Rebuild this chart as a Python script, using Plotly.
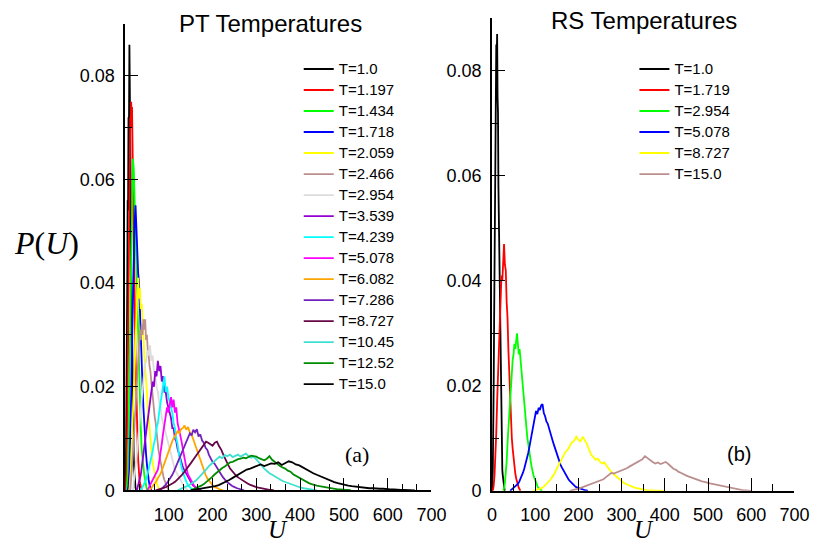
import numpy as np
import plotly.graph_objects as go

# ---------------- PT temperature set (panel a) ----------------
pt_temps = ["1.0", "1.197", "1.434", "1.718", "2.059", "2.466", "2.954", "3.539",
            "4.239", "5.078", "6.082", "7.286", "8.727", "10.45", "12.52", "15.0"]
# first bin centre and bin width of each histogram
pt_u_start = [0, 2, 4, 6, 10, 12, 18, 27, 36, 51, 56, 80, 70, 120, 150, 150]
pt_u_step = [1, 1, 2, 2, 2, 2, 3, 3, 3, 3, 4, 4, 5, 6, 6, 8]

pt_p_1000 = [0.000, 0.001, 0.004, 0.012, 0.024, 0.038, 0.056, 0.054, 0.072, 0.070, 0.086, 0.080,
             0.066, 0.058, 0.044, 0.036, 0.026, 0.019, 0.013, 0.009, 0.006, 0.004, 0.002, 0.001,
             0.0005, 0.0002, 0.0]
pt_p_1197 = [0.000, 0.002, 0.006, 0.012, 0.020, 0.030, 0.041, 0.052, 0.060, 0.067, 0.072, 0.070,
             0.075, 0.073, 0.074, 0.066, 0.063, 0.055, 0.050, 0.042, 0.038, 0.031, 0.026, 0.021,
             0.017, 0.013, 0.010, 0.008, 0.006, 0.004, 0.003, 0.002, 0.0015, 0.001, 0.0005,
             0.0002, 0.0]
pt_p_1434 = [0.000, 0.003, 0.010, 0.022, 0.036, 0.050, 0.058, 0.064, 0.062, 0.055, 0.050, 0.042,
             0.034, 0.028, 0.021, 0.016, 0.012, 0.008, 0.006, 0.004, 0.003, 0.002, 0.001, 0.0]
pt_p_1718 = [0.000, 0.001, 0.004, 0.010, 0.018, 0.028, 0.038, 0.046, 0.052, 0.055, 0.050, 0.048,
             0.042, 0.040, 0.034, 0.030, 0.024, 0.020, 0.016, 0.012, 0.009, 0.007, 0.005, 0.003,
             0.002, 0.001, 0.0005, 0.0]
pt_p_2059 = [0.000, 0.002, 0.005, 0.010, 0.015, 0.020, 0.026, 0.031, 0.035, 0.038, 0.041, 0.037,
             0.039, 0.035, 0.036, 0.031, 0.030, 0.026, 0.024, 0.021, 0.019, 0.016, 0.014, 0.011,
             0.009, 0.008, 0.006, 0.005, 0.004, 0.003, 0.002, 0.0015, 0.001, 0.0005, 0.0]
pt_p_2466 = [0.000, 0.002, 0.004, 0.007, 0.010, 0.013, 0.017, 0.020, 0.023, 0.026, 0.028, 0.031,
             0.029, 0.032, 0.030, 0.033, 0.031, 0.033, 0.029, 0.030, 0.027, 0.026, 0.024, 0.023,
             0.021, 0.019, 0.018, 0.016, 0.014, 0.013, 0.011, 0.010, 0.008, 0.007, 0.006, 0.005,
             0.004, 0.003, 0.0025, 0.002, 0.0015, 0.001, 0.0006, 0.0003, 0.0]
pt_p_2954 = [0.000, 0.002, 0.004, 0.007, 0.010, 0.013, 0.016, 0.019, 0.021, 0.024, 0.025, 0.027,
             0.026, 0.028, 0.025, 0.026, 0.023, 0.022, 0.020, 0.019, 0.017, 0.016, 0.014, 0.013,
             0.012, 0.011, 0.010, 0.0085, 0.0075, 0.0065, 0.0055, 0.005, 0.004, 0.0035, 0.003,
             0.0025, 0.002, 0.0015, 0.001, 0.0007, 0.0004, 0.0002, 0.0]
pt_p_3539 = [0.000, 0.001, 0.002, 0.003, 0.005, 0.007, 0.009, 0.011, 0.013, 0.015, 0.017, 0.019,
             0.021, 0.020, 0.023, 0.022, 0.025, 0.023, 0.024, 0.021, 0.022, 0.019, 0.019, 0.017,
             0.016, 0.015, 0.014, 0.012, 0.012, 0.010, 0.0095, 0.008, 0.007, 0.0065, 0.0055,
             0.0045, 0.004, 0.0035, 0.003, 0.0025, 0.002, 0.0015, 0.0012, 0.0009, 0.0007,
             0.0005, 0.0003, 0.0002, 0.0001, 0.0]
pt_p_4239 = [0.000, 0.0005, 0.001, 0.0015, 0.002, 0.003, 0.004, 0.005, 0.006, 0.0075, 0.009, 0.010,
             0.012, 0.013, 0.015, 0.017, 0.019, 0.020, 0.022, 0.019, 0.020, 0.018, 0.017, 0.016,
             0.015, 0.013, 0.012, 0.010, 0.009, 0.007, 0.0055, 0.0045, 0.0035, 0.0027, 0.002,
             0.0015, 0.001, 0.0007, 0.0004, 0.0002, 0.0001, 0.0]
pt_p_5078 = [0.000, 0.0005, 0.001, 0.0015, 0.002, 0.0025, 0.003, 0.0035, 0.004, 0.0055, 0.007,
             0.009, 0.011, 0.013, 0.014, 0.016, 0.015, 0.017, 0.018, 0.016, 0.0175, 0.015, 0.016,
             0.013, 0.012, 0.011, 0.0095, 0.008, 0.0065, 0.005, 0.004, 0.003, 0.0025, 0.002,
             0.0015, 0.001, 0.0007, 0.0004, 0.0002, 0.0001, 0.0]
pt_p_6082 = [0.000, 0.0004, 0.0008, 0.0012, 0.0018, 0.0025, 0.003, 0.0038, 0.0048, 0.0058, 0.0068,
             0.0078, 0.0085, 0.0095, 0.0102, 0.0108, 0.0114, 0.011, 0.0118, 0.012, 0.0125, 0.0117,
             0.0122, 0.0112, 0.0108, 0.0098, 0.0088, 0.0078, 0.0066, 0.0058, 0.0046, 0.0038,
             0.003, 0.0023, 0.0018, 0.0013, 0.001, 0.0007, 0.0005, 0.0003, 0.0002, 0.0001, 0.0]
pt_p_7286 = [0.000, 0.0003, 0.0006, 0.001, 0.0014, 0.0019, 0.0025, 0.003, 0.0037, 0.0045, 0.0053,
             0.0062, 0.007, 0.0078, 0.0088, 0.0094, 0.0102, 0.011, 0.0106, 0.0117, 0.0112, 0.0118,
             0.0104, 0.0108, 0.0096, 0.0092, 0.0082, 0.0078, 0.0068, 0.0062, 0.0055, 0.0052,
             0.0046, 0.004, 0.0035, 0.003, 0.0025, 0.002, 0.0017, 0.0014, 0.0011, 0.0009, 0.0007,
             0.0005, 0.0004, 0.0003, 0.0002, 0.0001, 0.0]
pt_p_8727 = [0.000, 0.0001, 0.0002, 0.0003, 0.0005, 0.0007, 0.0009, 0.0011, 0.0014, 0.0017, 0.0021,
             0.0025, 0.003, 0.0035, 0.004, 0.0046, 0.0052, 0.0058, 0.0064, 0.0071, 0.0076, 0.0083,
             0.0088, 0.0094, 0.0092, 0.0089, 0.0086, 0.0092, 0.0094, 0.0085, 0.0078, 0.0068,
             0.0058, 0.005, 0.0042, 0.0037, 0.0031, 0.0027, 0.0024, 0.0021, 0.0018, 0.0015,
             0.0013, 0.0011, 0.0009, 0.0007, 0.0006, 0.0005, 0.0004, 0.0003, 0.0002, 0.0002,
             0.0001, 0.0001, 0.0]
pt_p_1045 = [0.000, 0.0002, 0.0004, 0.0006, 0.0009, 0.0012, 0.0015, 0.0019, 0.0024, 0.0029, 0.0035,
             0.0041, 0.0047, 0.0052, 0.0057, 0.006, 0.0065, 0.0062, 0.0068, 0.0066, 0.0069, 0.0064,
             0.0067, 0.0069, 0.0065, 0.0068, 0.0071, 0.0066, 0.0063, 0.0065, 0.006, 0.0055,
             0.0048, 0.0042, 0.0037, 0.0033, 0.003, 0.0027, 0.0023, 0.002, 0.0018, 0.0016,
             0.0014, 0.0012, 0.001, 0.0008, 0.0007, 0.0005, 0.0004, 0.0003, 0.0002, 0.0001,
             0.0001, 0.0]
pt_p_1252 = [0.000, 0.0002, 0.0004, 0.0006, 0.0009, 0.0012, 0.0016, 0.002, 0.0025, 0.003, 0.0035,
             0.004, 0.0043, 0.0046, 0.005, 0.0054, 0.0055, 0.0058, 0.006, 0.0061, 0.0063, 0.0062,
             0.0065, 0.0067, 0.0066, 0.0065, 0.0062, 0.006, 0.0058, 0.0061, 0.0066, 0.0059,
             0.0055, 0.005, 0.0047, 0.0044, 0.0042, 0.0038, 0.0036, 0.0031, 0.0028, 0.0025,
             0.0022, 0.0019, 0.0016, 0.0014, 0.0012, 0.001, 0.0009, 0.0008, 0.0007, 0.0006,
             0.0005, 0.0004, 0.0003, 0.0003, 0.0002, 0.0002, 0.0001, 0.0001, 0.0001, 0.0]
pt_p_1500 = [0.000, 0.0001, 0.0002, 0.0003, 0.0004, 0.0005, 0.0006, 0.0008, 0.001, 0.0013, 0.0016,
             0.002, 0.0024, 0.0028, 0.0033, 0.0036, 0.004, 0.0042, 0.0045, 0.0048, 0.005, 0.0047,
             0.0049, 0.0052, 0.0051, 0.0054, 0.0049, 0.0053, 0.0056, 0.0054, 0.005, 0.0048,
             0.0044, 0.004, 0.0036, 0.0033, 0.003, 0.0027, 0.0024, 0.0021, 0.0018, 0.0016,
             0.0014, 0.0012, 0.001, 0.0009, 0.0008, 0.0007, 0.0006, 0.0006, 0.0005, 0.0004,
             0.0004, 0.0003, 0.0003, 0.0003, 0.0002, 0.0002, 0.0002, 0.0001, 0.0001, 0.0001,
             0.0001, 0.0001, 0.0]

pt_values = [pt_p_1000, pt_p_1197, pt_p_1434, pt_p_1718, pt_p_2059, pt_p_2466, pt_p_2954, pt_p_3539,
             pt_p_4239, pt_p_5078, pt_p_6082, pt_p_7286, pt_p_8727, pt_p_1045, pt_p_1252, pt_p_1500]

# ---------------- RS temperature set (panel b) ----------------
rs_temps = ["1.0", "1.719", "2.954", "5.078", "8.727", "15.0"]
rs_u_start = [0, 2, 26, 42, 95, 180]
rs_u_step = [1, 2, 2, 3, 5, 6]

rs_p_1000 = [0.000, 0.001, 0.004, 0.010, 0.020, 0.032, 0.045, 0.054, 0.068, 0.078, 0.085, 0.083,
             0.087, 0.075, 0.072, 0.058, 0.052, 0.040, 0.032, 0.024, 0.018, 0.013, 0.009, 0.006,
             0.004, 0.003, 0.002, 0.001, 0.0006, 0.0003, 0.0]
rs_p_1719 = [0.000, 0.001, 0.003, 0.006, 0.011, 0.017, 0.022, 0.028, 0.033, 0.038, 0.041, 0.040,
             0.045, 0.047, 0.043, 0.042, 0.036, 0.033, 0.027, 0.022, 0.017, 0.013, 0.010, 0.008,
             0.006, 0.0045, 0.0033, 0.0024, 0.0016, 0.001, 0.0006, 0.0003, 0.0]
rs_p_2954 = [0.000, 0.0005, 0.0015, 0.003, 0.0055, 0.009, 0.012, 0.015, 0.018, 0.020, 0.023, 0.025,
             0.026, 0.028, 0.027, 0.029, 0.030, 0.028, 0.026, 0.027, 0.025, 0.023, 0.022, 0.019,
             0.017, 0.015, 0.013, 0.012, 0.010, 0.009, 0.0075, 0.0065, 0.0055, 0.0045, 0.0035,
             0.003, 0.0025, 0.002, 0.0015, 0.001, 0.0007, 0.0005, 0.0003, 0.0002, 0.0001, 0.0]
rs_p_5078 = [0.000, 0.0002, 0.0004, 0.0006, 0.0008, 0.001, 0.0013, 0.0017, 0.0022, 0.0028, 0.0035,
             0.0043, 0.0052, 0.0062, 0.0072, 0.0085, 0.0098, 0.0115, 0.0128, 0.014, 0.0152, 0.0146,
             0.0158, 0.0154, 0.0163, 0.0165, 0.0148, 0.0142, 0.0132, 0.0128, 0.0118, 0.0108,
             0.0102, 0.0094, 0.0086, 0.0078, 0.007, 0.0064, 0.0055, 0.0049, 0.0044, 0.0039,
             0.0035, 0.003, 0.0026, 0.0022, 0.0019, 0.0016, 0.0013, 0.0011, 0.0009, 0.0007,
             0.0006, 0.0005, 0.0004, 0.0003, 0.0002, 0.0002, 0.0001, 0.0001, 0.0]
rs_p_8727 = [0.000, 0.0001, 0.0002, 0.0003, 0.0005, 0.0008, 0.0012, 0.0016, 0.0021, 0.0027, 0.0033,
             0.0042, 0.005, 0.0056, 0.0065, 0.0074, 0.0078, 0.0086, 0.0092, 0.0095, 0.0103, 0.0097,
             0.0094, 0.0103, 0.0096, 0.0089, 0.0078, 0.0068, 0.0064, 0.0059, 0.0061, 0.0055,
             0.0052, 0.0054, 0.0048, 0.0042, 0.0037, 0.0033, 0.0029, 0.0025, 0.0021, 0.0018,
             0.0015, 0.0013, 0.0011, 0.0009, 0.0007, 0.0006, 0.0005, 0.0004, 0.0003, 0.0002,
             0.0002, 0.0001, 0.0001, 0.0001, 0.0, 0.0, 0.0, 0.0, 0.0, 0.0]
rs_p_1500 = [0.000, 0.0001, 0.0002, 0.0003, 0.0005, 0.0007, 0.0009, 0.0011, 0.0013, 0.0015, 0.0016,
             0.0018, 0.002, 0.0022, 0.0026, 0.003, 0.0034, 0.0033, 0.0035, 0.0036, 0.0038, 0.004,
             0.0043, 0.0046, 0.0049, 0.0052, 0.0055, 0.0058, 0.006, 0.0066, 0.0062, 0.0058,
             0.0055, 0.0052, 0.0054, 0.0051, 0.0053, 0.0055, 0.0051, 0.0046, 0.0042, 0.004,
             0.0036, 0.0034, 0.0031, 0.0029, 0.0027, 0.0025, 0.0023, 0.0022, 0.002, 0.0018,
             0.0017, 0.0015, 0.0014, 0.0013, 0.0012, 0.0011, 0.0009, 0.0008, 0.0007, 0.0006,
             0.0005, 0.0004, 0.0003, 0.0002, 0.0002, 0.0001, 0.0001, 0.0001, 0.0]

rs_values = [rs_p_1000, rs_p_1719, rs_p_2954, rs_p_5078, rs_p_8727, rs_p_1500]

x_tick_values = [0, 100, 200, 300, 400, 500, 600, 700]
y_tick_values = [0, 0.02, 0.04, 0.06, 0.08]
y_tick_text = ["0", "0.02", "0.04", "0.06", "0.08"]

# ---------------- styling ----------------
pt_colors = ["#000000", "#ff0000", "#00ff00", "#0000ff", "#ffff00", "#bc8f8f", "#dcdcdc", "#9400d3",
             "#00ffff", "#ff00ff", "#ffa500", "#7221bc", "#670748", "#40e0d0", "#008b00", "#000000"]
rs_colors = ["#000000", "#ff0000", "#00ff00", "#0000ff", "#ffff00", "#bc8f8f"]

W, H = 828, 544
SANS = "Liberation Sans, Arial, sans-serif"
SERIF = "Liberation Serif, Times New Roman, serif"


def px_x(p):
    return p / W


def px_y(p):
    return 1 - p / H


def legend_label(temp):
    # entry text drawn a touch larger than the row pitch set by the legend font
    return f'<span style="font-size:15px">T={temp}</span>'


fig = go.Figure()

for temp, u0, du, vals, col in zip(pt_temps, pt_u_start, pt_u_step, pt_values, pt_colors):
    u = u0 + du * np.arange(len(vals))
    fig.add_trace(go.Scatter(x=u, y=vals, mode="lines", name=legend_label(temp),
                             line=dict(color=col, width=1.8),
                             xaxis="x", yaxis="y", legend="legend"))

for temp, u0, du, vals, col in zip(rs_temps, rs_u_start, rs_u_step, rs_values, rs_colors):
    u = u0 + du * np.arange(len(vals))
    fig.add_trace(go.Scatter(x=u, y=vals, mode="lines", name=legend_label(temp),
                             line=dict(color=col, width=1.8),
                             xaxis="x2", yaxis="y2", legend="legend2"))

axis_common = dict(
    showgrid=False, zeroline=False, showline=True, linecolor="black", linewidth=1.5,
    ticks="inside", ticklen=13, tickwidth=1.2, tickcolor="black",
    tickfont=dict(family=SANS, size=18, color="black"),
)
minor_y = dict(dtick=0.01, tick0=0, ticks="inside", ticklen=7, tickcolor="black", tickwidth=1.2)

fig.update_layout(
    width=W, height=H, autosize=False,
    margin=dict(l=0, r=0, t=0, b=0),
    paper_bgcolor="white", plot_bgcolor="white",
    showlegend=True,
    xaxis=dict(axis_common, domain=[px_x(123), px_x(437)], range=[0, 700],
               tickvals=x_tick_values[1:], anchor="y", ticklabelstandoff=7,
               minor=dict(dtick=100 / 3, tick0=0, ticks="inside", ticklen=7,
                          tickcolor="black", tickwidth=1.2)),
    yaxis=dict(axis_common, domain=[px_y(499.5), px_y(24.5)], range=[0, 0.09],
               tickvals=y_tick_values, ticktext=y_tick_text,
               anchor="x", ticklabelstandoff=5, minor=minor_y),
    xaxis2=dict(axis_common, domain=[px_x(499), px_x(809)], range=[0, 700],
                tickvals=x_tick_values, anchor="y2", ticklabelstandoff=7,
                minor=dict(dtick=50, tick0=0, ticks="inside", ticklen=7,
                           tickcolor="black", tickwidth=1.2)),
    yaxis2=dict(axis_common, domain=[px_y(500), px_y(18.5)], range=[0, 0.09],
                tickvals=y_tick_values, ticktext=y_tick_text,
                anchor="x2", ticklabelstandoff=5, minor=minor_y),
    legend=dict(x=px_x(301), y=px_y(54.5), xanchor="left", yanchor="top",
                bgcolor="rgba(0,0,0,0)", borderwidth=0,
                font=dict(family=SANS, size=13.85, color="black")),
    legend2=dict(x=px_x(645), y=px_y(54.5), xanchor="left", yanchor="top",
                 bgcolor="rgba(0,0,0,0)", borderwidth=0,
                 font=dict(family=SANS, size=13.85, color="black")),
)

annotations = [
    dict(text="PT Temperatures", x=px_x(272), y=px_y(24), font=dict(family=SANS, size=24)),
    dict(text="RS Temperatures", x=px_x(655), y=px_y(21), font=dict(family=SANS, size=24)),
    dict(text="(a)", x=px_x(361), y=px_y(463), font=dict(family=SERIF, size=22)),
    dict(text="(b)", x=px_x(752), y=px_y(463), font=dict(family=SANS, size=20)),
    dict(text="<i>P</i>(<i>U</i>)", x=px_x(43), y=px_y(248), font=dict(family=SERIF, size=32)),
    # axis titles sit in the gap between the 300 and 400 labels
    dict(text="<i>U</i>", x=px_x(280), y=px_y(544), font=dict(family=SERIF, size=25),
         yanchor="bottom", yshift=-11),
    dict(text="<i>U</i>", x=px_x(655), y=px_y(544), font=dict(family=SERIF, size=25),
         yanchor="bottom", yshift=-11),
]
for a in annotations:
    params = dict(xref="paper", yref="paper", showarrow=False,
                  xanchor="center", yanchor="middle", font_color="black")
    params.update(a)
    fig.add_annotation(**params)

fig.write_html("out.html")
